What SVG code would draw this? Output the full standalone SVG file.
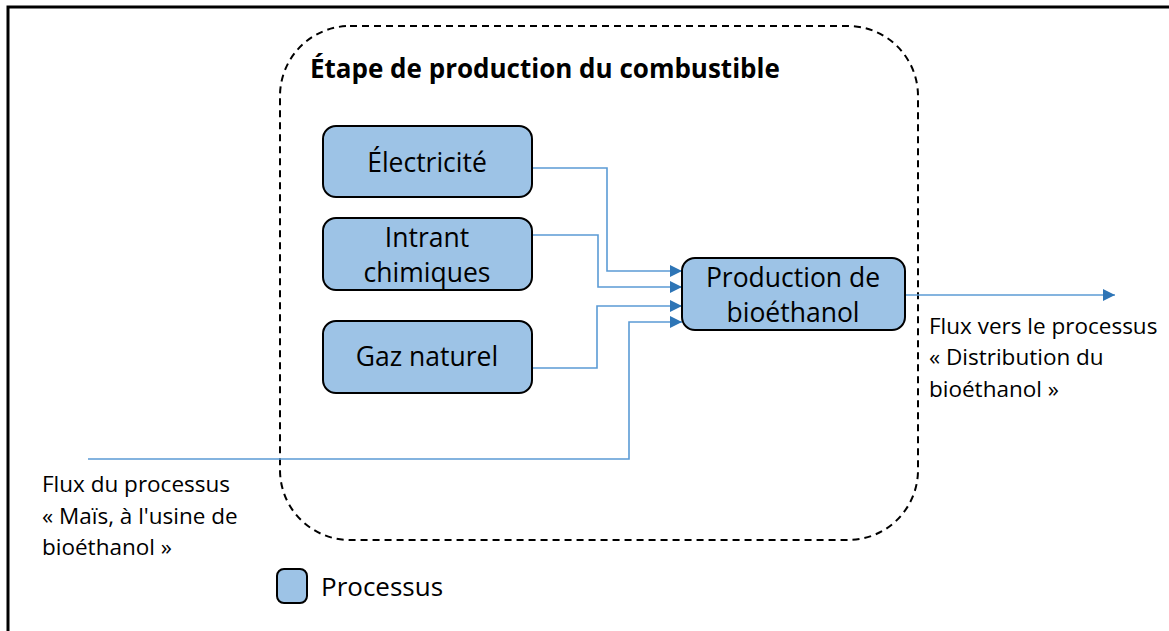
<svg xmlns="http://www.w3.org/2000/svg" width="1169" height="631" viewBox="0 0 1169 631">
<defs>
<style>
.box{fill:#9dc3e6;stroke:#000;stroke-width:2}
.t{font-family:"Open Sans","Liberation Sans",sans-serif;font-size:26.5px;fill:#000;text-anchor:middle}
.lbl{font-family:"Open Sans","Liberation Sans",sans-serif;font-size:22.5px;fill:#000}
.con{fill:none;stroke:#5b9bd5;stroke-width:1.6}
</style>
<marker id="arr" viewBox="0 0 10 10" refX="10" refY="5" markerWidth="13" markerHeight="12" markerUnits="userSpaceOnUse" orient="auto">
<path d="M0,0 L10,5 L0,10 Z" fill="#2e75b6"/>
</marker>
</defs>
<rect width="1169" height="631" fill="#fff"/>
<path d="M8,631 L8,7 L1169,7" fill="none" stroke="#000" stroke-width="3"/>
<g id="container">
<rect x="280" y="26" width="638" height="514" rx="70" ry="70" fill="none" stroke="#000" stroke-width="2" stroke-dasharray="7,5"/>
<text x="310" y="78" font-family="Open Sans, Liberation Sans, sans-serif" font-size="26" font-weight="bold">Étape de production du combustible</text>
</g>
<g id="connectors">
<path class="con" d="M532,168 H607 V271 H682" marker-end="url(#arr)"/>
<path class="con" d="M532,235 H598 V287 H682" marker-end="url(#arr)"/>
<path class="con" d="M532,368 H597 V306 H682" marker-end="url(#arr)"/>
<path class="con" d="M88,459 H629 V322 H682" marker-end="url(#arr)"/>
<path class="con" d="M905,295 H1115" marker-end="url(#arr)"/>
</g>
<g id="electricite">
<rect class="box" x="323" y="126" width="209" height="71" rx="13"/>
<text class="t" x="427" y="172">Électricité</text>
</g>
<g id="intrant">
<rect class="box" x="323" y="218" width="209" height="72" rx="13"/>
<text class="t" x="427" y="247">Intrant</text>
<text class="t" x="427" y="282">chimiques</text>
</g>
<g id="gaz">
<rect class="box" x="323" y="321" width="209" height="72" rx="13"/>
<text class="t" x="427" y="366">Gaz naturel</text>
</g>
<g id="production">
<rect class="box" x="682" y="258" width="223" height="72" rx="13"/>
<text class="t" x="793" y="287">Production de</text>
<text class="t" x="793" y="322">bioéthanol</text>
</g>
<g id="label-in">
<text class="lbl" x="42" y="492">Flux du processus</text>
<text class="lbl" x="42" y="524">« Maïs, à l'usine de</text>
<text class="lbl" x="42" y="555">bioéthanol »</text>
</g>
<g id="label-out">
<text class="lbl" x="929" y="334">Flux vers le processus</text>
<text class="lbl" x="929" y="365">« Distribution du</text>
<text class="lbl" x="929" y="397">bioéthanol »</text>
</g>
<g id="legend">
<rect class="box" x="277" y="569" width="30" height="34" rx="7"/>
<text x="321" y="596" font-family="Open Sans, Liberation Sans, sans-serif" font-size="26">Processus</text>
</g>
</svg>
